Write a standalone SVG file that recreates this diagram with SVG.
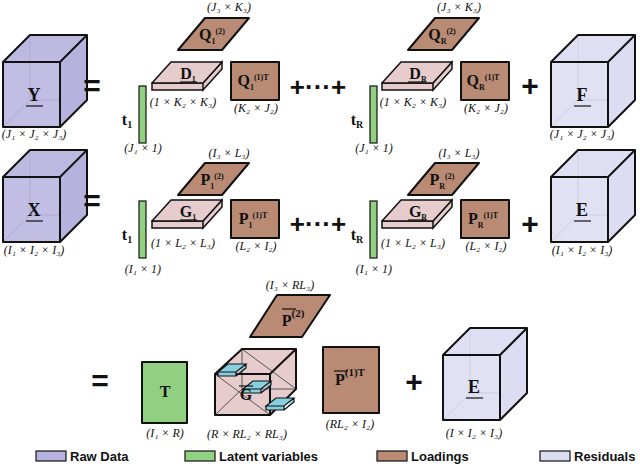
<svg xmlns="http://www.w3.org/2000/svg" width="640" height="467" viewBox="0 0 640 467">
<style>
.s{stroke:#111;stroke-width:2;stroke-linejoin:round}
.t{stroke:#111;stroke-width:1.2}
.raw{fill:#b6b2de}
.res{fill:#dcdcf2}
.lat{fill:#90d080}
.ld{fill:#b98b74}
.core{fill:#e6cccc}
.blue{fill:#88d0e0}
.hid{stroke:#777;stroke-width:1;fill:none}
text{font-family:"Liberation Serif",serif;fill:#111;text-anchor:middle}
.m{font-weight:bold;font-size:16px}
.d{font-size:12px;font-style:italic}
.op{font-family:"Liberation Sans",sans-serif;font-weight:bold;font-size:30px}
.lg{font-family:"Liberation Sans",sans-serif;font-weight:bold;font-size:13px;text-anchor:start}
</style>
<defs>
<g id="cube">
<path class="hid" d="M30,65V0M30,65H87M30,65L3,92"/>
<path d="M3,27L30,0H87L60,27Z" fill-opacity="0.9"/>
<path d="M60,27L87,0V65L60,92Z"/>
<rect x="3" y="27" width="57" height="65" fill-opacity="0.85"/>
<path class="s" fill="none" d="M3,27L30,0H87V65L60,92H3Z M3,27H60V92 M60,27L87,0"/>
</g>
<g id="slab">
<path class="core" style="stroke:#111;stroke-width:1.5" d="M0,21V28H51V21Z M51,21L70,0V7L51,28Z"/>
<path class="core s" style="stroke-width:1.5" d="M0,21L19,0H70L51,21Z"/>
</g>
</defs>

<!-- Row 1 -->
<g id="Y"><use href="#cube" x="0" y="35" class="raw"/><text class="m" x="34" y="101" style="font-size:18px">Y</text><path class="t" d="M26,106H43"/><text class="d" x="34" y="138">(J₁ × J₂ × J₃)</text></g>
<text class="op" x="92" y="96">=</text>
<g id="t1"><rect class="lat t" x="139" y="86" width="7" height="57"/><text class="m" x="127" y="125">t<tspan font-size="10" dy="3">1</tspan></text><text class="d" x="143" y="152">(J₁ × 1)</text></g>
<g id="D1"><use href="#slab" x="152" y="62"/><text class="m" x="188" y="79" font-size="13">D<tspan font-size="8" dy="3">1</tspan></text><path class="t" d="M180,82H197"/><text class="d" x="183" y="106">(1 × K₂ × K₃)</text></g>
<g id="Q12"><path class="ld s" d="M178,50L205,18H249L222,50Z"/><text class="m" x="212" y="40" font-size="13">Q<tspan font-size="8" dy="4">1</tspan><tspan font-size="8" dy="-10">(2)</tspan></text><text class="d" x="229" y="11">(J₃ × K₃)</text></g>
<g id="Q11"><rect class="ld s" x="231" y="62" width="48" height="38"/><text class="m" x="253" y="86" font-size="13">Q<tspan font-size="8" dy="4">1</tspan><tspan font-size="8" dy="-10">(1)T</tspan></text><text class="d" x="256" y="112">(K₂ × J₂)</text></g>
<text class="op" x="318" y="96" style="font-size:26px">+···+</text>
<g id="tR"><rect class="lat t" x="370" y="86" width="7" height="57"/><text class="m" x="357" y="125">t<tspan font-size="10" dy="3">R</tspan></text><text class="d" x="374" y="152">(J₁ × 1)</text></g>
<g id="DR"><use href="#slab" x="382" y="62"/><text class="m" x="418" y="79" font-size="13">D<tspan font-size="8" dy="3">R</tspan></text><path class="t" d="M408,82H426"/><text class="d" x="413" y="106">(1 × K₂ × K₃)</text></g>
<g id="QR2"><path class="ld s" d="M408,50L435,18H479L452,50Z"/><text class="m" x="442" y="40" font-size="13">Q<tspan font-size="8" dy="4">R</tspan><tspan font-size="8" dy="-10">(2)</tspan></text><text class="d" x="459" y="11">(J₃ × K₃)</text></g>
<g id="QR1"><rect class="ld s" x="461" y="62" width="48" height="38"/><text class="m" x="483" y="86" font-size="13">Q<tspan font-size="8" dy="4">R</tspan><tspan font-size="8" dy="-10">(1)T</tspan></text><text class="d" x="486" y="112">(K₂ × J₂)</text></g>
<text class="op" x="530" y="96">+</text>
<g id="F"><use href="#cube" x="548" y="35" class="res"/><text class="m" x="582" y="101" style="font-size:18px">F</text><path class="t" d="M574,106H591"/><text class="d" x="582" y="138">(J₁ × J₂ × J₃)</text></g>

<!-- Row 2 -->
<g id="X"><use href="#cube" x="0" y="150" class="raw"/><text class="m" x="34" y="216" style="font-size:18px">X</text><path class="t" d="M26,221H43"/><text class="d" x="34" y="254">(I₁ × I₂ × I₃)</text></g>
<text class="op" x="92" y="211">=</text>
<g id="t1b"><rect class="lat t" x="139" y="201" width="7" height="57"/><text class="m" x="127" y="240">t<tspan font-size="10" dy="3">1</tspan></text><text class="d" x="143" y="273">(I₁ × 1)</text></g>
<g id="G1"><use href="#slab" x="152" y="200"/><text class="m" x="188" y="217" font-size="13">G<tspan font-size="8" dy="3">1</tspan></text><path class="t" d="M180,220H197"/><text class="d" x="183" y="247">(1 × L₂ × L₃)</text></g>
<g id="P12"><path class="ld s" d="M178,195L205,163H249L222,195Z"/><text class="m" x="212" y="185" font-size="13">P<tspan font-size="8" dy="4">1</tspan><tspan font-size="8" dy="-10">(2)</tspan></text><text class="d" x="229" y="157">(I₃ × L₃)</text></g>
<g id="P11"><rect class="ld s" x="231" y="200" width="48" height="38"/><text class="m" x="253" y="224" font-size="13">P<tspan font-size="8" dy="4">1</tspan><tspan font-size="8" dy="-10">(1)T</tspan></text><text class="d" x="256" y="250">(L₂ × I₂)</text></g>
<text class="op" x="318" y="233" style="font-size:26px">+···+</text>
<g id="tRb"><rect class="lat t" x="370" y="201" width="7" height="57"/><text class="m" x="357" y="240">t<tspan font-size="10" dy="3">R</tspan></text><text class="d" x="374" y="273">(I₁ × 1)</text></g>
<g id="GR"><use href="#slab" x="382" y="200"/><text class="m" x="418" y="217" font-size="13">G<tspan font-size="8" dy="3">R</tspan></text><path class="t" d="M408,220H426"/><text class="d" x="413" y="247">(1 × L₂ × L₃)</text></g>
<g id="PR2"><path class="ld s" d="M408,195L435,163H479L452,195Z"/><text class="m" x="442" y="185" font-size="13">P<tspan font-size="8" dy="4">R</tspan><tspan font-size="8" dy="-10">(2)</tspan></text><text class="d" x="459" y="157">(I₃ × L₃)</text></g>
<g id="PR1"><rect class="ld s" x="461" y="200" width="48" height="38"/><text class="m" x="483" y="224" font-size="13">P<tspan font-size="8" dy="4">R</tspan><tspan font-size="8" dy="-10">(1)T</tspan></text><text class="d" x="486" y="250">(L₂ × I₂)</text></g>
<text class="op" x="530" y="234">+</text>
<g id="E1"><use href="#cube" x="548" y="150" class="res"/><text class="m" x="582" y="216" style="font-size:18px">E</text><path class="t" d="M574,221H591"/><text class="d" x="582" y="254">(I₁ × I₂ × I₃)</text></g>

<!-- Row 3 -->
<text class="op" x="100" y="391">=</text>
<g id="T"><rect class="lat s" x="142" y="362" width="45" height="61"/><text class="m" x="165" y="397">T</text><text class="d" x="165" y="437">(I₁ × R)</text></g>
<g id="P2"><path class="ld s" d="M250,337L277,295H330L302,337Z"/><text class="m" x="293" y="326" font-size="17">P<tspan font-size="11" dy="-9">(2)</tspan></text><path class="t" d="M282,309H296"/><text class="d" x="290" y="289">(I₃ × RL₃)</text></g>
<g id="Gc">
<path class="core" d="M215,374L242,349H296V389L270,415H215Z"/>
<path class="hid" style="stroke:#555" d="M242,349V389H296M242,389L215,415M215,374L270,415M242,349L296,389"/>
<path class="s" fill="none" d="M215,374L242,349H296V389L270,415H215Z M215,374H270V415 M270,374L296,349"/>
<path class="blue t" d="M218,372L228,364H246L236,372Z M218,372V376H236V372 M236,376L246,368V364"/>
<path class="blue t" d="M243,389L253,381H271L261,389Z M243,389V393H261V389 M261,393L271,385V381"/>
<path class="blue t" d="M266,406L276,398H294L284,406Z M266,406V410H284V406 M284,410L294,402V398"/>
<text class="m" x="246" y="400">G</text><path class="t" d="M239,386H253"/>
<text class="d" x="247" y="438">(R × RL₂ × RL₃)</text></g>
<g id="P1"><rect class="ld s" x="323" y="347" width="56" height="66"/><text class="m" x="350" y="385" font-size="17">P<tspan font-size="11" dy="-9">(1)T</tspan></text><path class="t" d="M334,371H348"/><text class="d" x="350" y="428">(RL₂ × I₂)</text></g>
<text class="op" x="414" y="392">+</text>
<g id="E2"><use href="#cube" x="440" y="328" class="res"/><text class="m" x="474" y="393" style="font-size:18px">E</text><path class="t" d="M466,398H483"/><text class="d" x="474" y="437">(I × I₂ × I₃)</text></g>

<!-- Legend -->
<g id="legend">
<rect class="raw t" x="36" y="451" width="30" height="10"/><text class="lg" x="70" y="461">Raw Data</text>
<rect class="lat t" x="185" y="451" width="30" height="10"/><text class="lg" x="219" y="461">Latent variables</text>
<rect class="ld t" x="377" y="451" width="30" height="10"/><text class="lg" x="411" y="461">Loadings</text>
<rect class="res t" x="540" y="451" width="30" height="10"/><text class="lg" x="574" y="461">Residuals</text>
</g>
<g id="connectors"/>
</svg>
